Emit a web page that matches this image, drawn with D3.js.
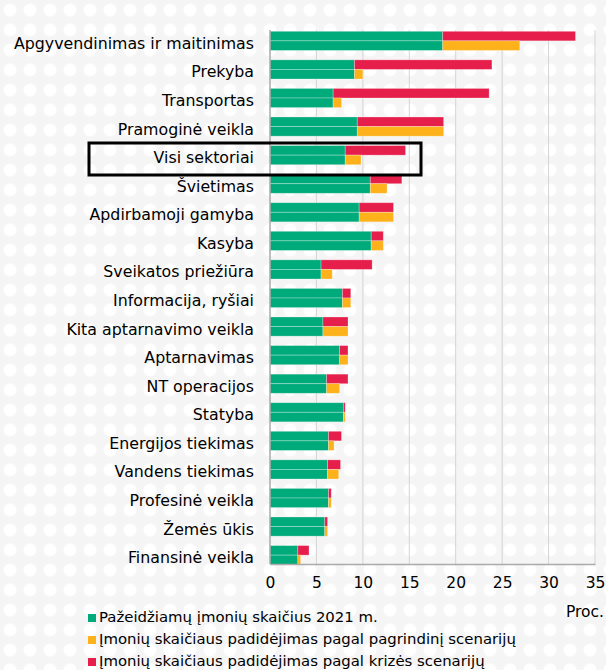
<!DOCTYPE html>
<html>
<head>
<meta charset="utf-8">
<script src="https://cdn.jsdelivr.net/npm/d3@7"></script>
<style>
  body { margin: 0; background: #fff; }
  text { font-family: "DejaVu Sans", Verdana, sans-serif; fill: #000; }
</style>
</head>
<body>
<svg id="viz"></svg>
<script>
const sectors = ["Apgyvendinimas ir maitinimas", "Prekyba", "Transportas", "Pramoginė veikla", "Visi sektoriai",
    "Švietimas", "Apdirbamoji gamyba", "Kasyba", "Sveikatos priežiūra", "Informacija, ryšiai",
    "Kita aptarnavimo veikla", "Aptarnavimas", "NT operacijos", "Statyba", "Energijos tiekimas",
    "Vandens tiekimas", "Profesinė veikla", "Žemės ūkis", "Finansinė veikla"];
const base2021 = [18.6, 9.1, 6.8, 9.4, 8.1, 10.8, 9.6, 10.9, 5.5, 7.8, 5.7, 7.5, 6.1, 7.9, 6.3, 6.2, 6.3, 5.9, 3.0];
const baseScenario = [8.3, 0.9, 0.9, 9.3, 1.7, 1.8, 3.7, 1.3, 1.2, 0.9, 2.7, 0.9, 1.4, 0.2, 0.6, 1.2, 0.3, 0.3, 0.3];
const crisisScenario = [14.3, 14.8, 16.8, 9.3, 6.5, 3.4, 3.7, 1.3, 5.5, 0.9, 2.7, 0.9, 2.3, 0.2, 1.4, 1.4, 0.3, 0.3, 1.2];
const xTicks = [0, 5, 10, 15, 20, 25, 30, 35];
const legendLabels = ["Pažeidžiamų įmonių skaičius 2021 m.", "Įmonių skaičiaus padidėjimas pagal pagrindinį scenarijų", "Įmonių skaičiaus padidėjimas pagal krizės scenarijų"];

const green = "#00ab7b", orange = "#fdb11a", red = "#e61e4b";

const width = 606, height = 670;
const svg = d3.select("#viz").attr("width", width).attr("height", height);

// dotted background
const defs = svg.append("defs");
const pat = defs.append("pattern").attr("id", "dots").attr("width", 20).attr("height", 20).attr("patternUnits", "userSpaceOnUse");
pat.append("rect").attr("width", 20).attr("height", 20).attr("fill", "#f5f5f5");
pat.append("circle").attr("cx", 10).attr("cy", 10).attr("r", 6.5).attr("fill", "#fff");
svg.append("rect").attr("width", width).attr("height", height).attr("fill", "url(#dots)");

const x = d3.scaleLinear().domain([0, 35]).range([270, 595]);
const y = d3.scaleBand().domain(sectors).range([27, 569]).paddingInner(0.33).paddingOuter(0.15);
const barH = y.bandwidth() / 2;

// grid
svg.append("g").selectAll("line").data(xTicks.slice(1)).enter().append("line")
    .attr("x1", d => x(d)).attr("x2", d => x(d)).attr("y1", 30).attr("y2", 564)
    .attr("stroke", "#d4d4d4").attr("stroke-width", 1);

const rows = sectors.map((s, i) => ({ s, g: base2021[i], o: baseScenario[i], r: crisisScenario[i] }));
const gBars = svg.append("g");
rows.forEach(d => {
    const y0 = y(d.s);
    gBars.append("rect").attr("x", x(0)).attr("y", y0).attr("width", x(d.g) - x(0)).attr("height", barH).attr("fill", green);
    gBars.append("rect").attr("x", x(d.g)).attr("y", y0).attr("width", x(d.g + d.r) - x(d.g)).attr("height", barH).attr("fill", red);
    gBars.append("rect").attr("x", x(0)).attr("y", y0 + barH).attr("width", x(d.g) - x(0)).attr("height", barH).attr("fill", green);
    gBars.append("rect").attr("x", x(d.g)).attr("y", y0 + barH).attr("width", x(d.g + d.o) - x(d.g)).attr("height", barH).attr("fill", orange);
});
gBars.selectAll("rect").attr("stroke", "#fff").attr("stroke-opacity", 0.35).attr("stroke-width", 0.8);

// axes
const xAxis = svg.append("g").attr("transform", "translate(0,564)")
    .call(d3.axisBottom(x).tickValues(xTicks).tickSize(0).tickPadding(13));
xAxis.select(".domain").attr("stroke", "#aaa").attr("stroke-width", 1.5);
xAxis.selectAll("text").style("font-size", "15.5px").style("font-family", "DejaVu Sans");

svg.append("line").attr("x1", x(0)).attr("x2", x(0)).attr("y1", 30).attr("y2", 564).attr("stroke", "#aaa").attr("stroke-width", 1.5);

const yAxis = svg.append("g").attr("transform", "translate(270,3)")
    .call(d3.axisLeft(y).tickSize(0).tickPadding(16));
yAxis.select(".domain").remove();
yAxis.selectAll("text").style("font-size", "15.8px").style("font-family", "DejaVu Sans");

svg.append("text").attr("x", 585).attr("y", 617).attr("text-anchor", "middle").style("font-size", "15.5px").text("Proc.");

// highlight box
svg.append("rect").attr("x", 89).attr("y", 143).attr("width", 332).attr("height", 32)
    .attr("fill", "none").attr("stroke", "#000").attr("stroke-width", 3);

// legend
const legend = svg.append("g").attr("transform", "translate(88,618)");
[green, orange, red].forEach((c, i) => {
    legend.append("rect").attr("x", 0).attr("y", i * 22 - 4).attr("width", 8).attr("height", 8).attr("fill", c);
    legend.append("text").attr("x", 11).attr("y", i * 22).attr("dominant-baseline", "middle").style("font-size", "14.9px").text(legendLabels[i]);
});
</script>
</body>
</html>
